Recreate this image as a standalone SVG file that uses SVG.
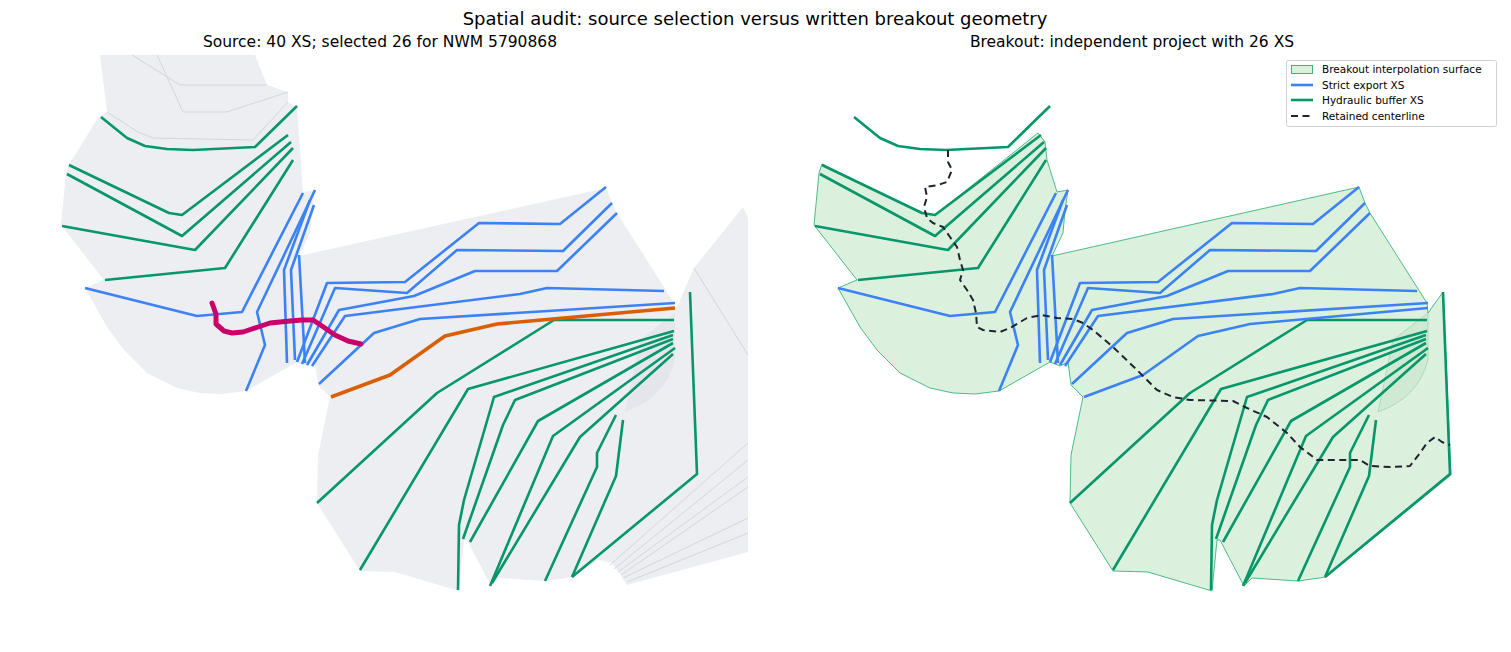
<svg xmlns="http://www.w3.org/2000/svg" xmlns:xlink="http://www.w3.org/1999/xlink" width="1511" height="652" viewBox="0 0 1511 652">
<style>
text{font-family:"DejaVu Sans",sans-serif;fill:#000}
.b{fill:none;stroke:#3b82f6;stroke-width:2.6;stroke-linejoin:round}
.g{fill:none;stroke:#059669;stroke-width:2.6;stroke-linejoin:round}
.src{fill:none;stroke:#d4d6dc;stroke-width:1}
.grey{fill:#eceef2;stroke:none}
.surf{fill:#dcf0de;stroke:#3cb37a;stroke-width:0.9;stroke-linejoin:round}
</style>
<defs>
<g id="xs">
<polyline class="g" points="101,117 127,138 145,146 167,149 193,150 255,147 297,106"/>
<polyline class="g" points="69,165 169,213 182,215 288,135"/>
<polyline class="g" points="67,174 182,236 291,142"/>
<polyline class="g" points="62,226 195,250 293,148"/>
<polyline class="g" points="105,280 225,268 293,160"/>
<polyline class="b" points="85,288 197,316 242,312 303,193"/>
<polyline class="b" points="315,190 257,312 265,345 246,391"/>
<polyline class="b" points="310,200 284,270 287,363"/>
<polyline class="b" points="314,205 291,270 295,360"/>
<polyline class="b" points="299,255 305,363"/>
<polyline class="b" points="297,362 327,283 405,282 479,223 560,224 606,187"/>
<polyline class="b" points="302,364 335,288 407,293 457,250 563,251 612,203"/>
<polyline class="b" points="307,365 339,310 414,296 475,271 557,271 617,213"/>
<polyline class="b" points="312,366 345,316 520,294 547,288 664,291"/>
<polyline class="b" points="319,384 374,333 420,319 675,303"/>
<polyline class="g" points="317,503 437,393 554,320 674,320"/>
<polyline class="g" points="360,570 468,389 674,331"/>
<polyline class="g" points="458,590 459,525 464,500 494,397 673,335"/>
<polyline class="g" points="463,539 503,425 515,400 673,339"/>
<polyline class="g" points="470,542 538,421 673,343"/>
<polyline class="g" points="490,586 553,436 675,348"/>
<polyline class="g" points="492,583 580,437 673,354"/>
<polyline class="g" points="545,581 597,467 597,453 616,415"/>
<polyline class="g" points="572,577 616,476 623,420"/>
<polyline class="g" points="572,577 697,474 690,292"/>
</g>
</defs>
<rect width="1511" height="652" fill="#fff"/>
<text x="755" y="25" font-size="18" text-anchor="middle">Spatial audit: source selection versus written breakout geometry</text>
<text x="380" y="47" font-size="15.5" text-anchor="middle">Source: 40 XS; selected 26 for NWM 5790868</text>
<text x="1132" y="47" font-size="15.5" text-anchor="middle">Breakout: independent project with 26 XS</text>

<g id="source-surface">
<path class="grey" d="M694,268 L743,207 L748,218 L748,552 L627,585 L620,574 L612,563 L598,560 L573,577 L600,470 L620,415 L675,350 L680,300 Z"/>
<path class="grey" d="M100,55 L255,55 L267,85 L288,92 L288,102 L297,107 L303,192 L315,190 L312,210 L310,233 L299,256 L606,188 L612,203 L617,213 L674,303 L675,308 L690,292 L697,475 L573,577 L545,581 L499,578 L491,586 L467,540 L464,540 L459,591 L395,572 L360,571 L317,503 L318,455 L330,397 L318,385 L315,362 L307,366 L297,362 L246,391 L222,394 L200,393 L177,388 L147,373 L124,350 L107,327 L85,288 L104,280 L61,225 L66,173 L70,163 L98,118 L107,112 Z"/>
<path d="M675,313 L675,360 Q665,398 625,412 L640,340 Z" fill="#e4e6eb"/>
<polyline class="src" points="132,55 180,85 267,85"/>
<polyline class="src" points="157,55 183,112 227,112 288,92"/>
<polyline class="src" points="107,112 138,132 153,138 253,140 288,102"/>
<polyline class="src" points="694,268 748,355"/>
<polyline class="src" points="610,565 748,443"/>
<polyline class="src" points="614,569 748,460"/>
<polyline class="src" points="618,572 748,477"/>
<polyline class="src" points="621,575 748,487"/>
<polyline class="src" points="623,578 748,518"/>
<polyline class="src" points="627,582 748,533"/>
</g>
<g id="source-xs">
<use xlink:href="#xs" href="#xs"/>
<polyline fill="none" stroke="#d95f02" stroke-width="3.6" stroke-linejoin="round" points="331,397 390,375 445,336 497,324 675,308"/>
<polyline fill="none" stroke="#c9006b" stroke-width="5" stroke-linejoin="round" stroke-linecap="round" points="212,303 216,314 216,324 224,331 232,333 243,332 258,327 270,323 290,321 302,320 313,320 322,326 335,335 348,341 361,344"/>
</g>

<g id="breakout-surface">
<path class="surf" d="M822,164 L922,213 L935,215 L1038,133 L1045,142 L1047,160 L1057,192 L1068,190 L1065,210 L1063,233 L1052,256 L1359,187 L1365,203 L1370,213 L1427,303 L1428,313 L1443,292 L1451,475 L1326,577 L1298,581 L1252,578 L1244,586 L1220,540 L1217,540 L1212,591 L1148,572 L1113,571 L1070,503 L1071,455 L1083,397 L1071,385 L1068,362 L1060,366 L1050,362 L999,391 L975,394 L953,393 L930,388 L900,373 L877,350 L860,327 L838,288 L857,280 L814,225 L819,173 Z"/>
<path d="M1428,313 L1428,360 Q1418,398 1378,412 L1393,340 Z" fill="#cfe9d3" stroke="#8fd0a4" stroke-width="0.6"/>
</g>
<g id="breakout-xs">
<use xlink:href="#xs" href="#xs" transform="translate(753,0)"/>
<polyline class="b" points="1084,397 1143,375 1198,336 1250,324 1428,308"/>
<polyline fill="none" stroke="#1f2430" stroke-width="2" stroke-dasharray="7,4.5" stroke-linejoin="round" points="948,150 948,162 952,170 947,182 938,185 925,187 927,197 924,207 927,218 933,223 943,227 950,237 957,247 960,260 963,270 960,280 967,290 973,300 976,313 977,327 983,330 1000,332 1010,328 1027,318 1042,315 1057,318 1073,319 1083,323 1093,330 1113,347 1137,370 1147,380 1157,390 1173,397 1190,400 1233,401 1247,408 1267,417 1287,433 1300,447 1317,460 1360,460 1370,466 1390,467 1410,466 1420,453 1427,443 1435,437 1442,442 1450,445"/>
</g>

<g id="legend">
<rect x="1286.5" y="60.5" width="210" height="66" rx="2" fill="#fff" fill-opacity="0.85" stroke="#d0d0d0"/>
<rect x="1291.5" y="65.5" width="21" height="8" fill="#dcf0de" stroke="#3cb37a"/>
<text x="1322" y="73" font-size="10.5">Breakout interpolation surface</text>
<line x1="1291" y1="85" x2="1313" y2="85" stroke="#3b82f6" stroke-width="2.6"/>
<text x="1322" y="89" font-size="10.5">Strict export XS</text>
<line x1="1291" y1="100" x2="1313" y2="100" stroke="#059669" stroke-width="2.6"/>
<text x="1322" y="104" font-size="10.5">Hydraulic buffer XS</text>
<line x1="1291" y1="116" x2="1313" y2="116" stroke="#1f2430" stroke-width="2" stroke-dasharray="7,4.5"/>
<text x="1322" y="120" font-size="10.5">Retained centerline</text>
</g>
</svg>
